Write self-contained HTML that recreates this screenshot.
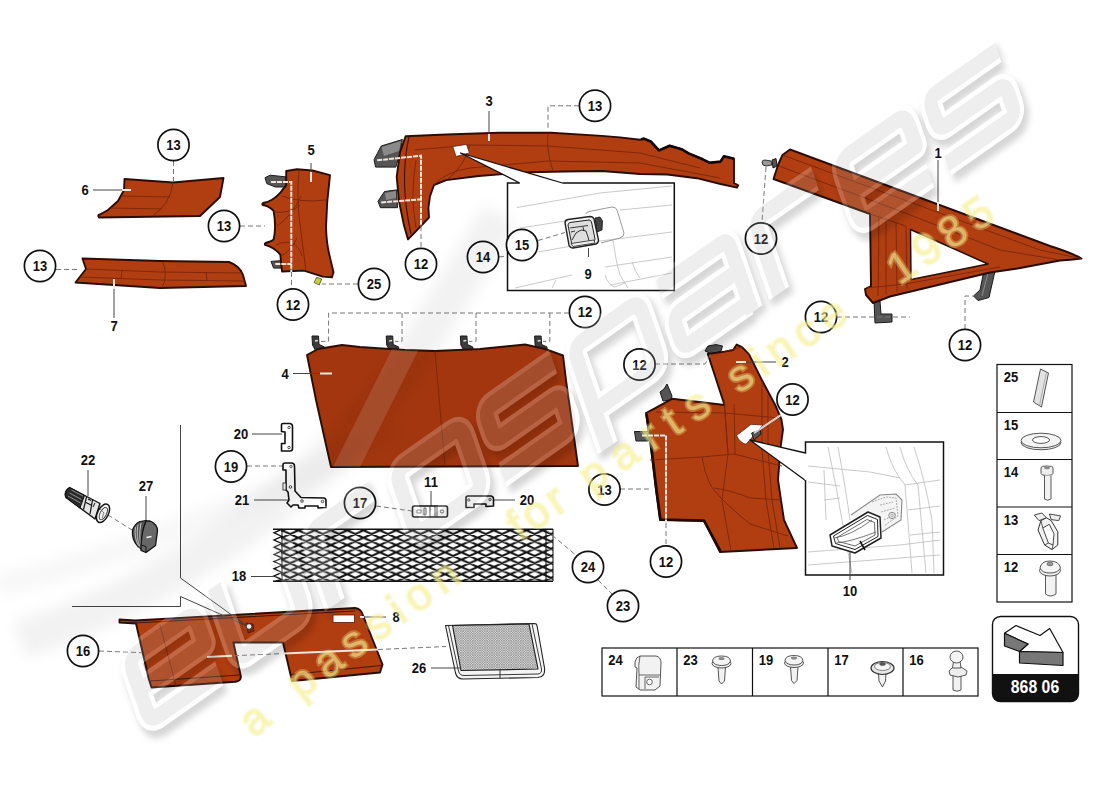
<!DOCTYPE html>
<html><head><meta charset="utf-8">
<style>
html,body{margin:0;padding:0;background:#fff;}
body{width:1100px;height:800px;overflow:hidden;font-family:"Liberation Sans",sans-serif;}
svg{display:block}
text{font-family:"Liberation Sans",sans-serif;font-weight:bold;font-size:14px;fill:#111;text-anchor:middle}
.c{fill:#fff;stroke:#111;stroke-width:1.7}
.d{fill:none;stroke:#777;stroke-width:1;stroke-dasharray:5 3}
.l{fill:none;stroke:#444;stroke-width:1}
.w{fill:none;stroke:#f3e6de;stroke-width:2}
.p{fill:#b13e11;stroke:#2a0d04;stroke-width:1.9;stroke-linejoin:round}
.i{fill:none;stroke:#7a260a;stroke-width:0.9}
.g{fill:#555;stroke:#1a1a1a;stroke-width:1;stroke-linejoin:round}
.o{fill:#fff;stroke:#111;stroke-width:1.6;stroke-linejoin:round}
.s{fill:none;stroke:#bbb;stroke-width:0.8}
.t{fill:none;stroke:#111;stroke-width:1.2}
</style></head><body>
<svg width="1100" height="800" viewBox="0 0 1100 800">
<defs>
<pattern id="mesh" x="290.15" y="530.45" width="16.3" height="7.3" patternUnits="userSpaceOnUse">
<path d="M0 3.65L8.15 0L16.3 3.65L8.15 7.3Z" fill="none" stroke="#111" stroke-width="2"/>
</pattern>
<pattern id="fine" width="2.4" height="2.4" patternUnits="userSpaceOnUse">
<rect width="2.4" height="2.4" fill="#dcdcdc"/>
<path d="M0 0L2.4 2.4M2.4 0L0 2.4" stroke="#6a6a6a" stroke-width="0.45"/>
</pattern>
</defs>
<!-- part 6 -->
<g id="p6">
<path class="p" d="M124.5 179L173 182.5L223.5 178L220 197L200 216L99 217.5Q97 215 100 214.5L108 210L118 201L124 190Z"/>
<path class="i" d="M173 182.5Q170 205 152 216M121 196L170 197M110 208L162 209"/>
</g>
<!-- part 7 -->
<g id="p7">
<path class="p" d="M82.5 258.5L160 261L229 262Q240 266 243 275L246 286L160 288L75.5 282.5L86 269Z"/>
<path class="i" d="M86 269L160 272L242 273M80 277L160 280L245 281M163 262Q168 276 162 288M122 270L121 279M206 272L207 281"/>
</g>
<!-- part 5 -->
<g id="p5">
<path class="g" d="M265 177.7L270.2 175.2L286 176.9L286 187L275.3 187L266.8 183.6Z"/>
<path class="g" d="M271 261.4L282.5 260.5L282.5 268.1L273.6 268.1Z"/>
<path class="p" d="M286.2 171L297 169.3L312.4 170.5L330 175.2Q326.5 202 326 227.6Q326.5 243 329.3 254.6L333.5 272.3L331.9 277.4L322.6 276.6L304 270.6L282 271.5L281 261.4L280.3 254.6Q274 247 265 244.8Q264.5 243.5 265.5 243Q273 241 273.6 239.4Q276.5 228 273.6 210.7Q268 205.5 262.6 205Q262 203.5 263 203Q268 202 271.9 199.7Q279 195 282 190.4L286.2 185.3Z"/>
<path class="i" d="M299 170Q296 200 301 232L306 271M282 196Q300 203 326 200M277 226Q292 216 301 196M276 245Q296 236 302 256M274 212Q290 214 300 205M281 256Q292 250 297 238"/>
<path d="M316.7 277.4L321.7 279L319.2 285L314.1 282.5Z" fill="#c4d62a" stroke="#444" stroke-width="0.8"/>
</g>
<!-- part 3 -->
<g id="p3">
<path class="g" d="M374 159.8L381.2 146L402.4 139.5L400 152.5L395.9 167.1L375.6 167.1Z"/>
<path d="M381.5 147L401 141L399 151L384 156Z" fill="#8a8a8a"/>
<path class="g" d="M378 201.2L384.5 191.5L396.7 189.9L397.5 207.7L380.4 207.7Z"/>
<path d="M385 193L396 191L396 198L386 200Z" fill="#8a8a8a"/>
<path class="p" d="M405.6 136.2L446 134.5L500 132.7L551 132.7L601.8 135.9L620 137.4L640 139.8L643.6 138.6L650.7 141.5L659 150.4L665 148L669.6 145.7L681.5 149.2L688.6 153.4L702.7 159.3L709.8 162.8L720.5 161.6L724 156.3L734 158.7L734 183L738.2 185.3L737 187.6L720.5 184L696.8 178.2L667.3 174.5L640 174L601.8 171L563.6 171.5L530.5 172.2L499.8 174.4L478.7 176L446.2 180.1L434 185L430 196.3L428.4 207.7L429 217.5L413.7 233.7L408 239.4L404 225.6L399 201.2L396.7 176.9L400 152.5Z"/>
<path class="i" style="stroke:#3a1206;stroke-width:1.1" d="M409 137Q399 180 411 234"/>
<path class="i" d="M548 133Q546 150 553 171M415 150L470 145L548 146L640 153L700 168M434 185Q445 172 470 168L548 161L640 163L720 178M416 160Q410 195 416 228M470 145Q465 165 448 179"/>
<path d="M452.7 146.5L466.5 144.4L469.5 153L456 156.5Z" fill="#fff" stroke="#5a1c08" stroke-width="0.8"/>
<path d="M641 139.5L644 138.6L650.7 141.5L659 150.4L669.6 145.7L681.5 149.2L688.6 153.4L702.7 159.3L709.8 162.8L720.5 161.6L724 156.3L734 158.7" fill="none" stroke="#150603" stroke-width="2.6" stroke-linejoin="round"/>

</g>
<!-- part 1 -->
<g id="p1">
<path d="M762 162Q762 160 765 160L771 161L772 165L766 166Q762 166 762 162Z" fill="#999" stroke="#222" stroke-width="0.9"/>
<path class="g" d="M772 160L776 158.5L777 166L773 168Z"/>
<path class="g" d="M874 301L880 301L881 314L892 314L892 322L875 323Z"/>
<path class="g" d="M983.5 273L995 271L989 297.5L978 300.5L973.5 296L980 290Z"/>
<path d="M988 273L982 296" stroke="#999" stroke-width="0.8" fill="none"/>
<path class="p" d="M790 149.5L1050 246Q1072 253 1081.5 258.5Q1070 260 1060 260.5L1017.5 268.5L990 272.5L890 296.5L873 303L866 295L865 289L871 286L870 214L773.5 179L778 165L782.5 155Z"/>
<path d="M910.5 229.5L988 264L911 279.5Z" fill="#fff" stroke="#2a0d04" stroke-width="1.5" stroke-linejoin="round"/>
<path class="i" d="M782.5 155L1040 250L1081 258.5M779 166L900 211L1000 250L1060 260M870 214L906 226M879 217L878 296M886 219L886 294M896 222L897 292M906 226L907 289M866 288L905 284L1000 267"/>
</g>
<!-- part 4 -->
<g id="p4">
<clipPath id="c4"><path d="M307 355L318 349L342 345L360 347L405 350L435 351L480 349L525 344.5L545 349L563 355.5L566 380L578 466L331 467L316 400Z"/></clipPath>
<path class="g" style="fill:#3c3c3c" d="M312 336L318.5 336L319 344.5L324.5 347L324 351.5L315.5 350.5L312.5 345Z"/><path d="M315 341L318 340.5" stroke="#ddd" stroke-width="1.5"/>
<path class="g" style="fill:#3c3c3c" d="M386.2 336L392.7 336L393.2 344.5L398.7 347L398.2 351.5L389.7 350.5L386.7 345Z"/><path d="M389.2 341L392.2 340.5" stroke="#ddd" stroke-width="1.5"/>
<path class="g" style="fill:#3c3c3c" d="M460.4 336L466.9 336L467.4 344.5L472.9 347L472.4 351.5L463.9 350.5L460.9 345Z"/><path d="M463.4 341L466.4 340.5" stroke="#ddd" stroke-width="1.5"/>
<path class="g" style="fill:#3c3c3c" d="M534.6 336L541.1 336L541.6 344.5L547.1 347L546.6 351.5L538.1 350.5L535.1 345Z"/><path d="M537.6 341L540.6 340.5" stroke="#ddd" stroke-width="1.5"/>
<path class="p" style="fill:#a3360e" d="M307 355L318 349L342 345L360 347L405 350L435 351L480 349L525 344.5L545 349L563 355.5L566 380L578 466L331 467L316 400Z"/>
<path class="i" d="M435 351L445 466"/>
<path d="M300 560L440 280" stroke="#fff" stroke-opacity="0.13" stroke-width="24" fill="none" clip-path="url(#c4)"/>
</g>
<!-- part 2 -->
<g id="p2">
<path class="g" d="M705 351L708 346L716 344.6L722.5 346L721 351L712 354Z"/>
<path class="g" d="M660 392L664 389L667 384L670 391L672 396L671 400L663 401Z"/>
<path class="g" d="M634.5 431.5L648.5 431.5L648.5 441L636 441Z"/>
<path class="p" d="M707.8 354L724.5 351.6L733.2 350L736.7 344.6L742 347.2L749 354.2L761.2 378.7L775.2 405L781.3 419L783 429.5L780.4 448.7L778 480L784 520L797 548L720 552L704 521L660 520L656 490L650 440L646 413L656.2 407.6L672 398.8L724.5 405Z"/>
<path d="M646.5 414L650.5 440L656.5 490L660.5 519.5L704 520.5L720.5 551" fill="none" stroke="#1e0803" stroke-width="2.6" stroke-linejoin="round"/>
<path class="i" d="M724.5 405L728 454L722 500L731 551M742 347.2L724.5 351.6M650 460L702 457L734 454L782 466M702 457Q704 472 710 484T750 524L788 536M714 488Q730 490 750 498L782 500M724 400L728 454M734 404L735 454M762 380L762 450L766 500L774 548M768 395L768 450L772 500L780 548M656 412L725 413L779 418"/>
<path d="M736.5 435.5L751 424.3L763 425L746 444.3Q740 443 736.5 435.5Z" fill="#fff" stroke="#5a1c08" stroke-width="0.8"/>
<path class="g" d="M751.6 433L760 430L761 434L754 440Z"/>
</g>
<!-- part 8 -->
<g id="p8">
<path class="p" d="M119.5 619.5L135 620.5L355 608Q361 609 362.5 614L382.5 664.5L380 672.5L292 681L283 642.5L233.4 642.5L240.9 676.4Q241 681 235.5 681.8L151.5 687.5L148.5 678L136 623.5L119.5 622.5Z"/>
<path class="i" style="stroke:#4a1606;stroke-width:1.1" d="M135 623L355 611M150 681L240 675M291 674.5L381.5 665.5"/><path class="i" d="M160 625L176 686"/>
<rect x="333" y="615" width="21.5" height="7.5" fill="#fff" stroke="#5a1c08" stroke-width="0.8"/>
<path d="M246 623L253 624L254 631L248 633Z" fill="#7a2a10" stroke="#3a1206" stroke-width="0.7"/><circle cx="249" cy="626.5" r="2.8" fill="#eee" stroke="#333" stroke-width="0.9"/>
</g>
<!-- mesh 18 -->
<g id="p18">
<rect x="281" y="529.2" width="272" height="52" fill="url(#mesh)"/>
<path d="M273 529.2L553 529.2" stroke="#111" stroke-width="1.6" fill="none"/>
<path d="M273 581.2L553 581.2" stroke="#111" stroke-width="1.6" fill="none"/>
<path d="M282 529L282 581M546 529L546 581M553 529L553 581" stroke="#111" stroke-width="1" fill="none"/>
<path d="M282 529.2L274 532.8L282 536.4L274 540L282 543.6L274 547.2L282 550.8L274 554.4L282 558L274 561.6L282 565.2L274 568.8L282 572.4L274 576L282 579.6L276 581" stroke="#111" stroke-width="1.3" fill="none"/>
</g>
<!-- part 26 -->
<g id="p26" stroke-linejoin="round">
<path d="M445.5 625.5L534.5 623.5Q536.5 623.5 537 625.5L544.5 668Q545.5 677 538 677.5L463 679Q457 679 455.5 673Z" fill="#f4f4f4" stroke="#222" stroke-width="1.1"/>
<path d="M448.5 625.5L458.5 671Q459.5 675.5 464 675.5L538 674Q542 673.5 541.5 669L532 624" fill="none" stroke="#222" stroke-width="0.9"/>
<path d="M452.5 625.5L529 624L538 669L461 670.5Z" fill="url(#fine)" stroke="#222" stroke-width="1.2"/>
<path d="M500 670L500 678.5" stroke="#222" stroke-width="0.9"/>
</g>
<!-- callout lines (big L shape bottom-left) -->
<path class="l" d="M180.5 425L180.5 578L247 626M72 606.5L180.5 606.5L180.5 596.5L247 626" stroke="#444"/>
<!-- inset box 9 -->
<g id="in9">
<path d="M519.7 183L507.5 183L507.5 290.5L674.3 290.5L674.3 183L562.4 183" fill="#fff" stroke="#111" stroke-width="1.5"/>
<path d="M519.7 183L460.5 153L562.4 183" fill="#fff" stroke="#111" stroke-width="1.3" stroke-linejoin="round"/>
<path class="s" d="M517 207.5L600 193L672 186M520 228L565 221M620 210L672 205M538 252L600 241L672 232M515 288L572 275M605 267L672 257M610 285L672 273M613 240Q616 262 620 275L628 288M605 275Q608 285 615 287L625 283M632 262Q635 272 640 278M552 288L556 280"/>
<path d="M586 214Q586 212 589 211.5L612 207Q616 207 617 210L624 233Q624 237 620 238L601 243" fill="none" stroke="#999" stroke-width="1"/>
<path d="M595 218L600 217L602.5 221L602 230L597 232Z" fill="#444" stroke="#111" stroke-width="0.8"/>
<path d="M565 223Q565 220 568 219.5L590 216.5Q593 216.5 594 219L598.5 240Q598.5 243 596 244L573 248Q570 248 569 245Z" fill="#f2f2f2" stroke="#222" stroke-width="1.4"/>
<path d="M568 225Q568 223 570 222.5L589 220Q591 220 591.5 222L595 239Q595 241 593 241.5L574 244.5Q572 244.5 571.5 243Z" fill="#dedede" stroke="#222" stroke-width="1"/>
<path d="M572 240L576 233L581 230L586 231L588 237L589 241M570 228L588 225.5M571 232L575 231M583 227L584 231" fill="none" stroke="#222" stroke-width="0.9"/>
<path d="M571 243.5L594 240L595 243L573 246.5Z" fill="#eee" stroke="#222" stroke-width="0.8"/>
<path class="l" d="M588.5 248L588.5 257"/>
</g>
<!-- inset box 10 -->
<g id="in10">
<rect x="805.5" y="442" width="138" height="133" fill="#fff" stroke="#111" stroke-width="1.5"/>
<path d="M805.5 453L750 440L805.5 480.5" fill="#fff" stroke="#111" stroke-width="1.3" stroke-linejoin="round"/>
<path d="M806 454L806 480" stroke="#fff" stroke-width="2.5"/>
<path class="s" d="M828 447Q835 480 842 520L852 573M838 447Q846 490 850 520M808 466L870 472L900 478M808 482L840 486M808 552L900 545L940 540M808 565L900 558L940 555M886 447Q892 470 905 485L912 573M900 447Q906 470 918 485L926 573M914 447Q925 480 932 520L934 573M905 485L940 480M908 510L940 506M910 535L940 532M824 470L826 520M824 500L840 498"/>
<path d="M851 515L880 495L896 494L902 500L901 520L882 532" fill="#f4f4f4" stroke="#888" stroke-width="1.1"/>
<path d="M872 502L886 497L896 498L898 516L884 526M880 505L893 502M881 512L895 508M884 520L896 514" fill="none" stroke="#999" stroke-width="0.8" stroke-dasharray="2 1"/>
<circle cx="892" cy="515.5" r="3.2" fill="#fff" stroke="#777" stroke-width="0.9"/><circle cx="892" cy="515.5" r="1.3" fill="none" stroke="#777" stroke-width="0.7"/>
<path d="M830 535L868 512L880 517L881 538L855 553L832 546Z" fill="#fff" stroke="#222" stroke-width="1.5" stroke-linejoin="round"/>
<path d="M833.5 536L867.5 515.5L877.5 519.5L878 536.5L855 549.5L835.5 543.5Z" fill="none" stroke="#222" stroke-width="1"/><path d="M837 537.5L867 519.5L874.5 522.5L875 535L855 546L838.5 541.5Z" fill="none" stroke="#444" stroke-width="0.8"/>
<path d="M834 538Q850 536 872 520M836 543Q850 542 876 532" fill="none" stroke="#555" stroke-width="0.8"/>
<path d="M860 541L865 550" stroke="#111" stroke-width="1.6"/>
<path class="l" d="M850 552L850 580"/>
</g>
<!-- dashed leader lines -->
<path class="d" d="M173.5 161L173.5 181"/>
<path class="d" d="M240 226L265 226"/>
<path class="d" d="M56 269.5L80 269.5"/>
<path class="d" d="M291.5 272L291.5 289"/>
<path class="d" d="M358 284L322 284"/>
<path class="d" d="M421 226L421 248"/>
<path class="d" d="M579 105.8L548 105.8L548 128"/>
<path class="d" d="M499 257L507 256M538 240.5L565 232.5"/>
<path class="d" d="M766 167L762 222"/>
<path class="d" d="M837 317L910 317"/>
<path class="d" d="M965 329L965 296L975 296"/>
<path class="d" d="M569 313L328.6 313L328.6 341.4L321 341.4M402 313L402 341.4L395 341.4M476 313L476 341.4L469 341.4M549.8 313L549.8 341.4L543 341.4"/>
<path class="d" d="M655 364L705 364L712 352"/>
<path class="d" d="M620 489L650 489"/>
<path class="d" d="M666 523L666 545"/>
<path class="d" d="M247 466L285 466"/>
<path class="d" d="M376 506L412 511"/>
<path class="d" d="M546 530L577 556M598 580L612 594"/>
<path class="d" d="M99 651L142 652.7M378 649.5L446 646.5M234 655.7L282 653.6"/>
<path class="d" d="M108 515L132 530"/>
<!-- white leaders inside parts -->
<path class="w" d="M377.2 160.3L421 155.7L421 226M381.2 202.5L421 199.3" stroke-dasharray="5 1"/>
<path class="w" d="M271 182L291.3 182L291.3 272M275.3 264L291.3 264" stroke-dasharray="5 1"/>
<path class="w" d="M642 435.5L666 435.5L666 523" stroke-dasharray="5 1"/>
<path class="w" d="M207 657L232 655.8M283.5 653.6L378 649.5"/>
<path d="M781 415L754 433" stroke="#fff" stroke-width="2"/><path d="M781 415L754 433" stroke="#888" stroke-width="0.6"/>
<!-- plain label leaders -->
<path class="l" d="M93 190L124 190"/><path class="w" d="M122 190L131 190"/>
<path class="l" d="M114 288L114 318"/><path class="w" d="M114 279L114 289"/>
<path class="l" d="M311 163L311 171"/><path class="w" d="M311 172L311 182"/>
<path class="l" d="M489 111L489 134"/><path class="w" d="M489 134L489 141"/>
<path class="l" d="M938 160L938 202"/><path class="w" d="M938 202L938 211"/>
<path class="l" d="M293 373.5L322 373.5"/><path class="w" d="M320 373.5L332 373.5"/>
<path class="l" d="M776 362L745 362"/><path class="w" d="M746 362L736 362"/>
<path class="l" d="M386 617L364 617"/><path class="w" d="M364 617L360 617"/>
<path class="l" d="M252 434L282 434"/>
<path class="l" d="M254 500L290 500"/>
<path class="l" d="M251 576.5L274 576.5"/>
<path class="l" d="M431 491L431 508"/>
<path class="l" d="M515 500L492 500"/>
<path class="l" d="M88 470L88 496"/>
<path class="l" d="M146 496L146 524"/>
<path class="l" d="M431 668L461 668"/>
<!-- circles -->
<g>
<circle class="c" cx="173.5" cy="145" r="15.6"/><text transform="translate(173.5 150.0) scale(0.93 1.04)">13</text>
<circle class="c" cx="224" cy="226" r="15.6"/><text transform="translate(224.0 231.0) scale(0.93 1.04)">13</text>
<circle class="c" cx="40" cy="266" r="15.6"/><text transform="translate(40.0 271.0) scale(0.93 1.04)">13</text>
<circle class="c" cx="293" cy="304.5" r="15.6"/><text transform="translate(293.0 309.5) scale(0.93 1.04)">12</text>
<circle class="c" cx="374" cy="284" r="15.6"/><text transform="translate(374.0 289.0) scale(0.93 1.04)">25</text>
<circle class="c" cx="421" cy="264" r="15.6"/><text transform="translate(421.0 269.0) scale(0.93 1.04)">12</text>
<circle class="c" cx="483" cy="257" r="15.6"/><text transform="translate(483.0 262.0) scale(0.93 1.04)">14</text>
<circle class="c" cx="522" cy="245" r="15.6"/><text transform="translate(522.0 250.0) scale(0.93 1.04)">15</text>
<circle class="c" cx="595" cy="105.8" r="15.6"/><text transform="translate(595.0 110.8) scale(0.93 1.04)">13</text>
<circle class="c" cx="761" cy="238.5" r="15.6"/><text transform="translate(761.0 243.5) scale(0.93 1.04)">12</text>
<circle class="c" cx="821" cy="317" r="15.6"/><text transform="translate(821.0 322.0) scale(0.93 1.04)">12</text>
<circle class="c" cx="965" cy="345" r="15.6"/><text transform="translate(965.0 350.0) scale(0.93 1.04)">12</text>
<circle class="c" cx="585" cy="312" r="15.6"/><text transform="translate(585.0 317.0) scale(0.93 1.04)">12</text>
<circle class="c" cx="639.5" cy="364.5" r="15.6"/><text transform="translate(639.5 369.5) scale(0.93 1.04)">12</text>
<circle class="c" cx="792.5" cy="399.5" r="15.6"/><text transform="translate(792.5 404.5) scale(0.93 1.04)">12</text>
<circle class="c" cx="604.5" cy="489.5" r="15.6"/><text transform="translate(604.5 494.5) scale(0.93 1.04)">13</text>
<circle class="c" cx="666" cy="561.5" r="15.6"/><text transform="translate(666.0 566.5) scale(0.93 1.04)">12</text>
<circle class="c" cx="231" cy="466.5" r="15.6"/><text transform="translate(231.0 471.5) scale(0.93 1.04)">19</text>
<circle class="c" cx="360" cy="503" r="15.6"/><text transform="translate(360.0 508.0) scale(0.93 1.04)">17</text>
<circle class="c" cx="588" cy="567" r="15.6"/><text transform="translate(588.0 572.0) scale(0.93 1.04)">24</text>
<circle class="c" cx="623" cy="606" r="15.6"/><text transform="translate(623.0 611.0) scale(0.93 1.04)">23</text>
<circle class="c" cx="83" cy="651" r="15.6"/><text transform="translate(83.0 656.0) scale(0.93 1.04)">16</text>
</g>
<!-- plain labels -->
<g>
<text transform="translate(85.0 195.0) scale(0.93 1.04)">6</text>
<text transform="translate(114.0 331.0) scale(0.93 1.04)">7</text>
<text transform="translate(311.0 155.0) scale(0.93 1.04)">5</text>
<text transform="translate(489.0 106.0) scale(0.93 1.04)">3</text>
<text transform="translate(938.0 158.0) scale(0.93 1.04)">1</text>
<text transform="translate(285.0 379.0) scale(0.93 1.04)">4</text>
<text transform="translate(785.0 367.0) scale(0.93 1.04)">2</text>
<text transform="translate(588.0 279.0) scale(0.93 1.04)">9</text>
<text transform="translate(850.0 596.0) scale(0.93 1.04)">10</text>
<text transform="translate(396.0 622.0) scale(0.93 1.04)">8</text>
<text transform="translate(241.0 439.0) scale(0.93 1.04)">20</text>
<text transform="translate(242.0 505.0) scale(0.93 1.04)">21</text>
<text transform="translate(239.0 581.0) scale(0.93 1.04)">18</text>
<text transform="translate(431.0 487.0) scale(0.93 1.04)">11</text>
<text transform="translate(527.0 505.0) scale(0.93 1.04)">20</text>
<text transform="translate(88.0 465.0) scale(0.93 1.04)">22</text>
<text transform="translate(146.0 491.0) scale(0.93 1.04)">27</text>
<text transform="translate(419.0 673.0) scale(0.93 1.04)">26</text>
</g>
<!-- right table -->
<g id="rt">
<rect x="997" y="364.5" width="75" height="237.5" fill="#fff" stroke="#111" stroke-width="1.2"/>
<path d="M997 412.5L1072 412.5M997 459.5L1072 459.5M997 507L1072 507M997 554.5L1072 554.5" stroke="#111" stroke-width="1.2"/>
<text transform="translate(1011.0 382.0) scale(0.93 1.04)">25</text>
<text transform="translate(1011.0 429.5) scale(0.93 1.04)">15</text>
<text transform="translate(1011.0 477.0) scale(0.93 1.04)">14</text>
<text transform="translate(1011.0 524.5) scale(0.93 1.04)">13</text>
<text transform="translate(1011.0 572.0) scale(0.93 1.04)">12</text>
</g>
<!-- bottom table -->
<g id="bt">
<rect x="602" y="648" width="376" height="48" fill="#fff" stroke="#111" stroke-width="1.2"/>
<path d="M677 648L677 696M752.5 648L752.5 696M828 648L828 696M903 648L903 696" stroke="#111" stroke-width="1.2"/>
<text transform="translate(615.5 665.0) scale(0.93 1.04)">24</text>
<text transform="translate(690.5 665.0) scale(0.93 1.04)">23</text>
<text transform="translate(766.0 665.0) scale(0.93 1.04)">19</text>
<text transform="translate(841.5 665.0) scale(0.93 1.04)">17</text>
<text transform="translate(916.5 665.0) scale(0.93 1.04)">16</text>
</g>
<!-- 868 06 box -->
<g id="box">
<rect x="992.5" y="616.5" width="86" height="85" rx="8" fill="#fff" stroke="#111" stroke-width="1.4"/>
<path d="M992.5 674L1078.5 674L1078.5 693.5Q1078.5 701.5 1070.5 701.5L1000.5 701.5Q992.5 701.5 992.5 693.5Z" fill="#111"/>
<text transform="translate(1035.0 693.0) scale(0.93 1.04)" style="fill:#fff;font-size:17px">868 06</text>
<path d="M1016 625.5L1040 635.5L1049.7 628.5L1063 652.5L1019.5 651.5L1028 644L1004.5 633.3Z" fill="#fff" stroke="#111" stroke-width="1.2" stroke-linejoin="round"/>
<path d="M1004.5 633.3L1028 644L1019.5 651.5L1004.5 646Z" fill="#777" stroke="#111" stroke-width="1.2" stroke-linejoin="round"/>
<path d="M1019.5 651.5L1063 652.5L1063 665.5L1019.5 663Z" fill="#777" stroke="#111" stroke-width="1.2" stroke-linejoin="round"/>
</g>
<!-- part 22 -->
<g id="p22" stroke-linejoin="round">
<path d="M69.6 487.5L100 503.5L95 519L66 497.5Q63.5 491.5 69.6 487.5Z" fill="#e4e4e4" stroke="#111" stroke-width="1.4"/>
<path d="M69.6 487.5L84.5 495.5L80 508L66 497.5Q63.5 491.5 69.6 487.5Z" fill="#2a2a2a" stroke="#111" stroke-width="1"/>
<path d="M71.5 490L83 496M69.5 493L81.5 499.5M68 496L80.5 503" stroke="#aaa" stroke-width="0.8" fill="none"/>
<path d="M86.5 497L83.5 509.5M92.5 500L90 514M86 502.5L92 505.5M88 499L91 500.5" stroke="#111" stroke-width="1.2" fill="none"/>
<path d="M95 503L93 507" stroke="#111" stroke-width="1"/>
<ellipse cx="103" cy="513.3" rx="5.4" ry="10" transform="rotate(27 103 513.3)" fill="#fff" stroke="#111" stroke-width="1.5"/>
<ellipse cx="103.3" cy="513.6" rx="3.2" ry="6.8" transform="rotate(27 103.3 513.6)" fill="#f0f0f0" stroke="#333" stroke-width="0.9"/>
<path d="M100 509L104 513L102 518" fill="none" stroke="#555" stroke-width="0.7"/>
</g>
<!-- part 27 -->
<g id="p27" stroke-linejoin="round">
<path d="M132.5 530Q135 523.5 140 521.5L146 520.5L142 549.5L138 546.5Q131.5 540 132.5 530Z" fill="#555" stroke="#111" stroke-width="1.2"/>
<path d="M135.5 527Q134 538 138.5 546M138 524.5Q135.5 538 140.5 548M141 523Q138 538 142 549" stroke="#ccc" stroke-width="0.9" fill="none"/>
<path d="M146 521L150 521Q157.5 524 157.5 531L155.5 545.5L146 552.5L141 550.5L141 545Q142 530 146 521Z" fill="#6a6a6a" stroke="#111" stroke-width="1.3"/>
<path d="M146.5 537.5L151.5 536.5" stroke="#fff" stroke-width="1.5"/>
<path d="M141 545L146 546.5L146 552" fill="none" stroke="#111" stroke-width="0.9"/>
</g>
<!-- part 20 left -->
<g id="p20a">
<path class="o" d="M281.5 424.5Q281.5 423.5 283 423.5L290 423.5Q292.5 424 292.5 426.5L292.5 448.5Q292.5 451 290 451L281.5 451L281.5 443.5L285 443.5L285 432L281.5 431.5Z"/>
<circle cx="289" cy="427.5" r="1.2" fill="#fff" stroke="#222" stroke-width="0.8"/>
<circle cx="289" cy="447.5" r="1.2" fill="#fff" stroke="#222" stroke-width="0.8"/>
</g>
<!-- part 21 -->
<g id="p21">
<path class="o" d="M283 465Q283 463 285 463L292 463Q294.5 463.5 294.5 466L295 491L301 497.5L324 498Q326 498.5 326 501L326 507.5L318 508L318 506L305 506L305 508L299 508L298 505L293 505L291 507L287 503L289 500L288 492L286 490L286 470L283 470Z"/>
<circle cx="290.5" cy="487" r="1.3" fill="#fff" stroke="#222" stroke-width="0.8"/>
<circle cx="302" cy="501" r="1.3" fill="#fff" stroke="#222" stroke-width="0.8"/>
<circle cx="322.5" cy="501.5" r="1.3" fill="#fff" stroke="#222" stroke-width="0.8"/>
<circle cx="291" cy="466.5" r="1.2" fill="#fff" stroke="#222" stroke-width="0.7"/>
<rect x="283" y="483" width="3" height="7" fill="#fff" stroke="#222" stroke-width="0.8"/>
</g>
<!-- part 11 -->
<g id="p11">
<rect class="o" x="412.5" y="506" width="35" height="11" rx="2"/>
<path d="M430 506L430 517M435 506L435 517M437 506L437 517" stroke="#222" stroke-width="0.9"/>
<circle cx="442" cy="511.5" r="1.6" fill="#fff" stroke="#222" stroke-width="0.7"/>
<path d="M417 510L421 510L421 513L417 513ZM424 508L426 508L426 515L424 515Z" fill="none" stroke="#333" stroke-width="0.7"/>
</g>
<!-- part 20 right -->
<g id="p20b">
<path class="o" d="M466 498Q466 496 468 496L491 496Q493.5 496.5 493.5 499L493.5 506L486 506.5L486 504L474 504L474 507.5L466 507.5Z"/>
<circle cx="468.8" cy="500" r="1.2" fill="#fff" stroke="#222" stroke-width="0.8"/>
<circle cx="490" cy="499.5" r="1.2" fill="#fff" stroke="#222" stroke-width="0.8"/>
</g>
<!-- right table icons -->
<g id="ric" stroke-linejoin="round">
<path d="M1040.5 369L1048.5 373L1041.5 407L1033.5 402Z" fill="#e2e2e2" stroke="#444" stroke-width="0.9"/>
<path d="M1046.5 372L1039.5 405.5" stroke="#888" stroke-width="0.6"/>
<ellipse cx="1041" cy="442.5" rx="20" ry="7.3" fill="#eee" stroke="#444" stroke-width="0.9"/>
<ellipse cx="1041" cy="440.5" rx="20" ry="7.3" fill="#f4f4f4" stroke="#444" stroke-width="0.9"/>
<ellipse cx="1041" cy="440" rx="8.5" ry="3.4" fill="#fff" stroke="#444" stroke-width="0.9"/>
<path d="M1041 467.5Q1041 466 1047 466Q1053 466 1053 467.5L1053 473.5Q1053 475.5 1047 475.5Q1041 475.5 1041 473.5Z" fill="#eee" stroke="#444" stroke-width="0.9"/>
<ellipse cx="1047" cy="468" rx="3" ry="1.2" fill="#888"/>
<path d="M1044.5 475.5L1044.5 499Q1047.5 501.5 1051 499L1051 475.5" fill="#f2f2f2" stroke="#444" stroke-width="0.9"/>
<path d="M1034.3 515L1041.8 513L1046.5 517.8L1039 520.6Z" fill="#eee" stroke="#333" stroke-width="0.9"/>
<path d="M1049.3 514L1060.6 515.9L1058.7 520.6L1051.2 519.6Z" fill="#eee" stroke="#333" stroke-width="0.9"/>
<path d="M1040.9 520.6L1038 530L1044.6 545L1052 549.6L1057.8 545L1057.8 531.8L1051.2 520.6L1046.5 517.8Z" fill="#f2f2f2" stroke="#333" stroke-width="1"/>
<path d="M1042.8 528L1048.4 543L1053 545L1054 533.7L1049.3 524.3Z" fill="#fff" stroke="#333" stroke-width="0.9"/>
<path d="M1044.6 545L1048.4 543M1053 545L1052 549.6M1042.8 528L1040.9 520.6" fill="none" stroke="#333" stroke-width="0.8"/>
<path d="M1045.5 574L1045.5 594Q1050 598 1056 594L1056 574" fill="#f2f2f2" stroke="#444" stroke-width="0.9"/>
<ellipse cx="1050" cy="570.5" rx="10.5" ry="5.5" fill="#eee" stroke="#444" stroke-width="0.9"/>
<path d="M1040 568Q1041 561 1050 561Q1059 561 1060.5 568Q1058 573 1050 573Q1042 573 1040 568Z" fill="#f4f4f4" stroke="#444" stroke-width="0.9"/>
<ellipse cx="1050" cy="564" rx="3" ry="1.8" fill="#999" stroke="#444" stroke-width="0.6"/>
</g>
<!-- bottom table icons -->
<g id="bic" stroke-linejoin="round">
<path d="M635 662Q636 657 640 656L656 656Q661 657 661 663L660 686L655 690L640 690L636 687L637 668L635 667Z" fill="#f2f2f2" stroke="#444" stroke-width="0.9"/>
<path d="M640 656Q638 665 639 675L660 675M639 675L639 689M645 689L645 677L659 677" fill="none" stroke="#444" stroke-width="0.8"/>
<circle cx="649.5" cy="682" r="2.8" fill="#fff" stroke="#444" stroke-width="0.8"/>
<g id="scr">
<path d="M718 667L719 681L721.5 684L724.5 681L725.5 667" fill="#f2f2f2" stroke="#444" stroke-width="0.9"/>
<ellipse cx="721.5" cy="663.5" rx="9.5" ry="4.5" fill="#eee" stroke="#444" stroke-width="0.9"/>
<path d="M712.5 661Q713 656 721.5 656Q730 656 730.5 661Q729 665.5 721.5 665.5Q714 665.5 712.5 661Z" fill="#f4f4f4" stroke="#444" stroke-width="0.9"/>
<ellipse cx="721.5" cy="658.5" rx="3" ry="1.5" fill="#888"/>
</g>
<use href="#scr" x="72.5" y="-0.5"/>
<path d="M878.5 673L879 681L882.5 687L885.5 681L886 673" fill="#f2f2f2" stroke="#444" stroke-width="0.9"/>
<ellipse cx="882.5" cy="668" rx="11.5" ry="6.5" fill="#e6e6e6" stroke="#333" stroke-width="1.2"/>
<ellipse cx="882.5" cy="666.5" rx="8" ry="4" fill="#f4f4f4" stroke="#555" stroke-width="0.7"/>
<ellipse cx="882.5" cy="664" rx="3.2" ry="1.8" fill="#555"/>
<path d="M953 674L953 690Q957 692.5 961 690L961 674" fill="#f2f2f2" stroke="#444" stroke-width="0.9"/>
<path d="M949 671L953 667L961 667L967 671L966 675L958 677L950 675Z" fill="#eee" stroke="#444" stroke-width="0.9"/>
<path d="M953.5 661L952.5 668L961 668L960 661" fill="#f2f2f2" stroke="#444" stroke-width="0.9"/>
<ellipse cx="956.5" cy="657" rx="6.5" ry="6" fill="#f4f4f4" stroke="#444" stroke-width="0.9"/>
</g>
<!-- watermark overlay -->
<defs>
<path id="wml" d="M12.0 -44.0H92.0V-64.0Q92.0 -76.0 80.0 -76.0H24.0Q12.0 -76.0 12.0 -64.0V-24.0Q12.0 -12.0 24.0 -12.0H96.0 M120.5 -86V-24.0Q120.5 -12.0 132.5 -12.0H188.5Q200.5 -12.0 200.5 -24.0V-86 M233.0 -2V-64.0Q233.0 -76.0 245.0 -76.0H307.0 M349.5 -76.0H405.5Q417.5 -76.0 417.5 -64.0V-24.0Q417.5 -12.0 405.5 -12.0H349.5Q337.5 -12.0 337.5 -24.0V-64.0Q337.5 -76.0 349.5 -76.0Z M530.0 -76.0H456.0Q446.0 -76.0 446.0 -66.0V-54.0Q446.0 -44.0 456.0 -44.0H516.0Q526.0 -44.0 526.0 -34.0V-22.0Q526.0 -12.0 516.0 -12.0H442.0 M554.5 26V-64.0Q554.5 -76.0 566.5 -76.0H622.5Q634.5 -76.0 634.5 -64.0V-24.0Q634.5 -12.0 622.5 -12.0H554.5 M659.0 -76.0H733.0Q743.0 -76.0 743.0 -66.0V-2M743.0 -44.0H673.0Q663.0 -44.0 663.0 -34.0V-22.0Q663.0 -12.0 673.0 -12.0H743.0 M775.5 -2V-64.0Q775.5 -76.0 787.5 -76.0H849.5 M880.0 -44.0H960.0V-64.0Q960.0 -76.0 948.0 -76.0H892.0Q880.0 -76.0 880.0 -64.0V-24.0Q880.0 -12.0 892.0 -12.0H964.0 M1072.5 -76.0H998.5Q988.5 -76.0 988.5 -66.0V-54.0Q988.5 -44.0 998.5 -44.0H1058.5Q1068.5 -44.0 1068.5 -34.0V-22.0Q1068.5 -12.0 1058.5 -12.0H984.5" fill="none" stroke-linejoin="round"/>
<filter id="wmb" x="-5%" y="-5%" width="110%" height="110%"><feGaussianBlur stdDeviation="3"/></filter>
<filter id="wmb2" x="-5%" y="-5%" width="110%" height="110%"><feGaussianBlur stdDeviation="7"/></filter>
<mask id="wmo" maskUnits="userSpaceOnUse" x="0" y="0" width="1100" height="800">
<rect width="1100" height="800" fill="#fff"/>
<g transform="translate(144.6,740.2) rotate(-35) skewX(-16)"><use href="#wml" stroke="#000" stroke-width="24"/></g>
</mask>
<mask id="wmi" maskUnits="userSpaceOnUse" x="0" y="0" width="1100" height="800">
<rect width="1100" height="800" fill="#fff"/>
<g transform="translate(144.6,740.2) rotate(-35) skewX(-16)"><use href="#wml" stroke="#000" stroke-width="15"/></g>
</mask>
</defs>
<g filter="url(#wmb2)"><path d="M20 640C170 590 330 490 420 345S480 250 500 215" fill="none" stroke="#000" stroke-opacity="0.05" stroke-width="38"/><path d="M0 585C150 550 300 480 400 430" fill="none" stroke="#000" stroke-opacity="0.03" stroke-width="22"/></g>
<g mask="url(#wmo)">
<g transform="translate(4,6)" filter="url(#wmb)"><g transform="translate(144.6,740.2) rotate(-35) skewX(-16)"><use href="#wml" stroke="#000" stroke-opacity="0.16" stroke-width="26"/></g></g>
</g>
<g mask="url(#wmi)"><g transform="translate(144.6,740.2) rotate(-35) skewX(-16)"><use href="#wml" stroke="#fff" stroke-opacity="0.22" stroke-width="24"/></g></g>
<g transform="translate(144.6,740.2) rotate(-35) skewX(-16)"><use href="#wml" stroke="#aaa" stroke-opacity="0.20" stroke-width="15"/></g>
<path id="ypath" d="M247.3 729.7C418.5 584.6 760 372 1003 201" fill="none"/>
<text dy="11" style="font-size:44px;font-weight:normal;text-anchor:start;letter-spacing:0px;fill:#f6f194;fill-opacity:0.55;stroke:#f6f194;stroke-opacity:0.32;stroke-width:3.6"><textPath href="#ypath" startOffset="0">a</textPath></text>
<text dy="11" style="font-size:44px;font-weight:normal;text-anchor:start;letter-spacing:8.3px;fill:#f6f194;fill-opacity:0.55;stroke:#f6f194;stroke-opacity:0.32;stroke-width:3.6"><textPath href="#ypath" startOffset="60.8">passion</textPath></text>
<text dy="11" style="font-size:44px;font-weight:normal;text-anchor:start;letter-spacing:4.4px;fill:#f6f194;fill-opacity:0.55;stroke:#f6f194;stroke-opacity:0.32;stroke-width:3.6"><textPath href="#ypath" startOffset="331.9">for</textPath></text>
<text dy="11" style="font-size:44px;font-weight:normal;text-anchor:start;letter-spacing:12.3px;fill:#f6f194;fill-opacity:0.55;stroke:#f6f194;stroke-opacity:0.32;stroke-width:3.6"><textPath href="#ypath" startOffset="418.3">parts</textPath></text>
<text dy="11" style="font-size:44px;font-weight:normal;text-anchor:start;letter-spacing:7.8px;fill:#f6f194;fill-opacity:0.55;stroke:#f6f194;stroke-opacity:0.32;stroke-width:3.6"><textPath href="#ypath" startOffset="595.5">since</textPath></text>
<text dy="11" style="font-size:44px;font-weight:normal;text-anchor:start;letter-spacing:6.7px;fill:#f6f194;fill-opacity:0.55;stroke:#f6f194;stroke-opacity:0.32;stroke-width:3.6"><textPath href="#ypath" startOffset="789.4">1985</textPath></text>

</svg>
</body></html>
